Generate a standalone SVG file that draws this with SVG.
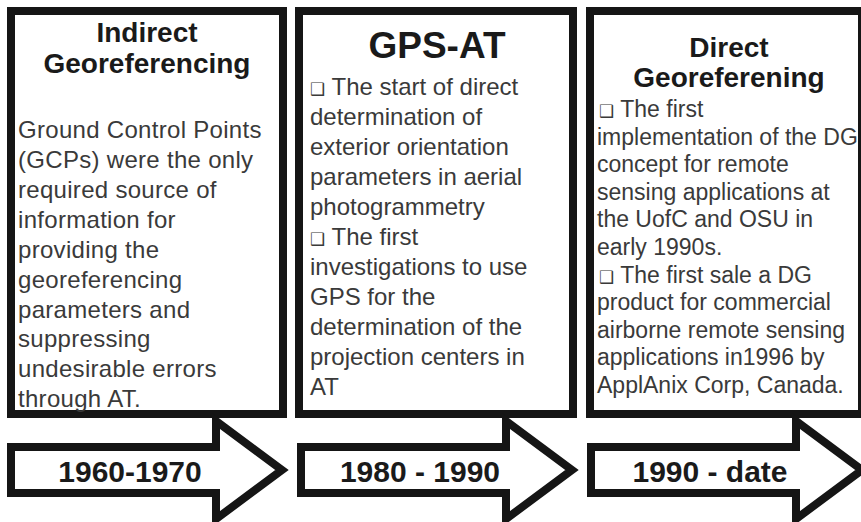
<svg xmlns="http://www.w3.org/2000/svg" width="861" height="522" viewBox="0 0 861 522">
<style>
.box{fill:#fff;stroke:#151515;stroke-width:8}
.arrow{fill:#fff;stroke:#151515;stroke-width:8;stroke-linejoin:miter;stroke-miterlimit:10}
.title{font-family:"Liberation Sans",Arial,sans-serif;font-weight:bold;fill:#1a1a1a;text-anchor:middle}
.body{font-family:"Liberation Sans",Arial,sans-serif;font-size:24px;fill:#3a3a3a}
.b1{letter-spacing:0.3px}
.b3{font-size:23px}
.blt{font-family:"DejaVu Sans",sans-serif;font-size:17px}
.lbl{font-family:"Liberation Sans",Arial,sans-serif;font-weight:bold;font-size:30px;fill:#1a1a1a;text-anchor:middle}
</style>
<rect width="861" height="522" fill="#fff"/>
<g id="node-indirect">
<rect class="box" x="11" y="11" width="272" height="403"/>
<text class="title" x="147" y="42" font-size="28">Indirect</text>
<text class="title" x="147" y="73" font-size="28">Georeferencing</text>
<text class="body b1" x="18" y="138">Ground Control Points</text>
<text class="body b1" x="18" y="168">(GCPs) were the only</text>
<text class="body b1" x="18" y="198">required source of</text>
<text class="body b1" x="18" y="228">information for</text>
<text class="body b1" x="18" y="258">providing the</text>
<text class="body b1" x="18" y="288">georeferencing</text>
<text class="body b1" x="18" y="318">parameters and</text>
<text class="body b1" x="18" y="347">suppressing</text>
<text class="body b1" x="18" y="377">undesirable errors</text>
<text class="body b1" x="18" y="407">through AT.</text>
</g>
<g id="node-gpsat">
<rect class="box" x="299" y="11" width="274" height="403"/>
<text class="title" x="437" y="58" font-size="37">GPS-AT</text>
<text class="body" x="310" y="95"><tspan class="blt">❑</tspan> The start of direct</text>
<text class="body" x="310" y="125">determination of</text>
<text class="body" x="310" y="155">exterior orientation</text>
<text class="body" x="310" y="185">parameters in aerial</text>
<text class="body" x="310" y="215">photogrammetry</text>
<text class="body" x="310" y="245"><tspan class="blt">❑</tspan> The first</text>
<text class="body" x="310" y="275">investigations to use</text>
<text class="body" x="310" y="305">GPS for the</text>
<text class="body" x="310" y="335">determination of the</text>
<text class="body" x="310" y="365">projection centers in</text>
<text class="body" x="310" y="395">AT</text>
</g>
<g id="node-direct">
<rect class="box" x="590" y="11" width="272" height="403"/>
<text class="title" x="729" y="57" font-size="28">Direct</text>
<text class="title" x="729" y="87" font-size="28">Georeferening</text>
<text class="body b3" x="599" y="117"><tspan class="blt">❑</tspan> The first</text>
<text class="body b3" x="597" y="145">implementation of the DG</text>
<text class="body b3" x="597" y="172">concept for remote</text>
<text class="body b3" x="597" y="200">sensing applications at</text>
<text class="body b3" x="597" y="227">the UofC and OSU in</text>
<text class="body b3" x="597" y="255">early 1990s.</text>
<text class="body b3" x="599" y="283"><tspan class="blt">❑</tspan> The first sale a DG</text>
<text class="body b3" x="597" y="310">product for commercial</text>
<text class="body b3" x="597" y="338">airborne remote sensing</text>
<text class="body b3" x="597" y="365">applications in1996 by</text>
<text class="body b3" x="597" y="393">ApplAnix Corp, Canada.</text>
</g>
<g id="connectors">
<g id="arrow-1960">
<polygon class="arrow" points="11,447 216,447 216,421 282,470 216,519 216,493 11,493"/>
<text class="lbl" x="130" y="482">1960-1970</text>
</g>
<g id="arrow-1980">
<polygon class="arrow" points="301,447 506,447 506,421 572,470 506,519 506,493 301,493"/>
<text class="lbl" x="420" y="482">1980 - 1990</text>
</g>
<g id="arrow-1990">
<polygon class="arrow" points="591,447 796,447 796,421 862,470 796,519 796,493 591,493"/>
<text class="lbl" x="710" y="482">1990 - date</text>
</g>
</g>
</svg>
